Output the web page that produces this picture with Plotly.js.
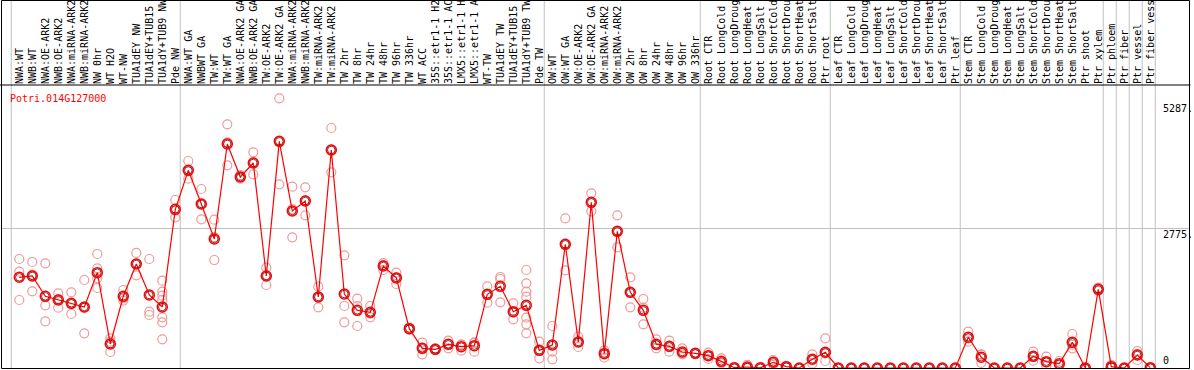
<!DOCTYPE html>
<html>
<head>
<meta charset="utf-8">
<script src="https://cdn.plot.ly/plotly-3.0.1.min.js"></script>
<style>html,body{margin:0;padding:0;background:#fff;}#chart{width:1194px;height:370px;}</style>
</head>
<body>
<div id="chart"></div>
<script>
const geneName = "Potri.014G127000";

const categories = [
"NWA:WT","NWB:WT","NWA:OE-ARK2","NWB:OE-ARK2","NWA:miRNA-ARK2","NWB:miRNA-ARK2","NW 0hr","WT H2O","WT-NW","TUA1dEY NW","TUA1dEY+TUB15","TUA1dY+TUB9 NW","Pde NW",
"NWA:WT GA","NWBWT GA","TW:WT","TW:WT GA","NWA:OE-ARK2 GA","NWB:OE-ARK2 GA","TW:OE-ARK2","TW:OE-ARK2 GA","NWA:miRNA-ARK2","NWB:miRNA-ARK2","TW:miRNA-ARK2","TW:miRNA-ARK2","TW 2hr","TW 8hr","TW 24hr","TW 48hr","TW 96hr","TW 336hr","WT ACC","35S::etr1-1 H2","35S::etr1-1 AC","LMX5::etr1-1 H","LMX5::etr1-1 A","WT-TW","TUA1dEY TW","TUA1dEY+TUB15","TUA1dY+TUB9 TW","Pde TW",
"OW:WT","OW:WT GA","OW:OE-ARK2","OW:OE-ARK2 GA","OW:miRNA-ARK2","OW:miRNA-ARK2","OW 2hr","OW 8hr","OW 24hr","OW 48hr","OW 96hr","OW 336hr",
"Root CTR","Root LongCold","Root LongDroug","Root LongHeat","Root LongSalt","Root ShortCold","Root ShortDrou","Root ShortHeat","Root ShortSalt","Ptr root",
"Leaf CTR","Leaf LongCold","Leaf LongDroug","Leaf LongHeat","Leaf LongSalt","Leaf ShortCold","Leaf ShortDrou","Leaf ShortHeat","Leaf ShortSalt","Ptr leaf",
"Stem CTR","Stem LongCold","Stem LongDroug","Stem LongHeat","Stem LongSalt","Stem ShortCold","Stem ShortDrou","Stem ShortHeat","Stem ShortSalt","Ptr shoot",
"Ptr xylem","Ptr phloem","Ptr fiber","Ptr vessel","Ptr fiber vess"
];

const means = [
1802,1828,1424,1351,1285,1212,1894,477,1424,2066,1450,1212,3152,
3927,3258,2563,4450,3794,4072,1828,4503,3119,3317,1410,4331,1470,1146,1106,2026,1790,781,391,371,470,424,444,1463,1622,1119,1245,351,
457,2457,516,3291,285,2715,1503,1146,470,430,318,291,
245,132,6,20,4,113,26,0,173,312,
0,0,0,0,0,0,0,0,0,0,
610,213,0,0,0,232,126,86,510,0,
1563,26,0,258,6
];

const replicates = [
[2165,1914,1351],[2106,1855,1523],[2079,1245,927],[1483,1370,1199],[1503,1279,1073],[1748,1199,689],
[2265,1980,1781,1589],[590,523,318],[1549,1384,1339],[2285,2072,1841],[2165,1119,1053],
[1735,1516,1437,1351,1007,907,570],[3337,3126,2993],
[4112,3908,3761],[3556,3264,2954],[2946,2598,2145],[4841,4482,4027],[3830,3794,3760],[4285,4083,3848],
[1993,1842,1649],[5357,4503,3649],[3602,3159,2596],[3590,3328,3033],[1616,1408,1206],[4768,4337,3888],
[2238,1232,907],[1377,1232,834],[1232,1079,1007],[2085,2046,1947],[1894,1801,1669],[800,781,760],
[503,398,272],[391,373,358],[543,476,391],[470,458,344],[505,503,324],[1622,1470,1297],[1808,1768,1304],
[1285,1105,967],[1947,1682,1516,1417,999,868,689],[523,337,193],
[834,324,173],[2974,2456,1941],[622,509,417],[3470,3290,3113],[350,300,205],[3033,2714,2398],
[1802,1501,1206],[1371,1199,868],[570,449,391],[543,423,324],[391,291,272],[300,291,282],
[304,252,179],[193,110,93],[10,5,3],[60,0,0],[5,4,3],[159,120,60],[40,26,12],[0,0,0],[272,161,86],[590,291,139],
[0,0,0],[0,0,0],[0,0,0],[0,0,0],[0,0,0],[0,0,0],[0,0,0],[0,0,0],[0,0,0],[0,0,0],
[721,586,523],[272,264,103],[0,0,0],[0,0,0],[0,0,0],[324,226,146],[225,113,40],[139,60,59],[675,464,391],[0,0,0],
[1595,1564,1530],[60,10,8],[0,0,0],[338,277,159],[10,5,3]
];

// last category index of each group (vertical separators drawn after them)
const groupEnds = [-1,12,40,52,62,72,83,84,85,86,87];
const yLabelValues = [5287, 2775, 0];
const yLabelText = ["5287.", "2775.", "0"];
const yGridValues = [2775];

const idx = categories.map((c, i) => i);
const repX = [], repY = [];
replicates.forEach((arr, i) => arr.forEach(v => { repX.push(i); repY.push(v); }));

const W = 1194, H = 370;
const mL = 1, mR = 4, mT = 85, mB = 1;
const pw = W - mL - mR, ph = H - mT - mB;
const px2paperX = p => (p - mL) / pw;
const py2paperY = p => (H - mB - p) / ph;

const mono = "DejaVu Sans Mono, monospace";

const traces = [
  {x: repX, y: repY, type: 'scatter', mode: 'markers', hoverinfo: 'skip',
   marker: {symbol: 'circle-open', size: 9, color: '#ef9a9a', line: {width: 1.2, color: '#ef9a9a'}}},
  {x: idx, y: means, type: 'scatter', mode: 'lines', hoverinfo: 'skip',
   line: {color: '#ff0000', width: 1.2}},
  {x: idx, y: means, type: 'scatter', mode: 'markers', hoverinfo: 'skip',
   marker: {symbol: 'circle-open', size: 10, color: '#ff0000', line: {width: 1.5, color: '#ff0000'}}},
  {x: idx, y: means, type: 'scatter', mode: 'markers', hoverinfo: 'skip',
   marker: {symbol: 'circle-open', size: 7.5, color: '#700000', line: {width: 0.8, color: '#700000'}}}
];

const shapes = [];
groupEnds.forEach(b => shapes.push({type: 'line', xref: 'x', yref: 'paper', x0: b + 0.38, x1: b + 0.38,
  y0: 0, y1: py2paperY(0), line: {color: '#c0c0c0', width: 1}, layer: 'below'}));
// header/plot separator and frame
shapes.push({type: 'line', xref: 'paper', yref: 'paper', x0: px2paperX(0), x1: px2paperX(1190.5), y0: 1, y1: 1, line: {color: '#000', width: 1}});
shapes.push({type: 'rect', xref: 'paper', yref: 'paper', x0: px2paperX(1.5), x1: px2paperX(1189.5),
  y0: py2paperY(368.5), y1: py2paperY(0.5), line: {color: '#000', width: 1}, fillcolor: 'rgba(0,0,0,0)'});

const annotations = [
  {text: geneName, xref: 'paper', yref: 'paper', x: px2paperX(8), y: py2paperY(91), xanchor: 'left', yanchor: 'top',
   showarrow: false, font: {family: mono, size: 10, color: '#ff0000'}}
];
yLabelValues.forEach((v, k) => annotations.push({
  text: yLabelText[k], xref: 'paper', yref: 'y', x: px2paperX(1161), y: v, xanchor: 'left',
  yanchor: v === 0 ? 'bottom' : 'top', yshift: v === 0 ? 0 : 1, showarrow: false,
  font: {family: mono, size: 10, color: '#000'}
}));

const layout = {
  width: W, height: H,
  margin: {l: mL, r: mR, t: mT, b: mB, pad: 0},
  paper_bgcolor: '#ffffff', plot_bgcolor: '#ffffff',
  showlegend: false,
  xaxis: {side: 'top', range: [-18.3 / 13, -18.3 / 13 + pw / 13], tickmode: 'array', tickvals: idx, ticktext: categories,
    tickangle: -90, tickfont: {family: mono, size: 10, color: '#000'}, showgrid: false, zeroline: false,
    showline: false, ticks: '', fixedrange: true},
  yaxis: {range: [-20, 5622], tickmode: 'array', tickvals: yGridValues, showticklabels: false, showgrid: true,
    gridcolor: '#c0c0c0', gridwidth: 1, zeroline: false, showline: false, ticks: '', fixedrange: true},
  shapes: shapes,
  annotations: annotations
};

Plotly.newPlot('chart', traces, layout, {staticPlot: true, displayModeBar: false});
</script>
</body>
</html>
